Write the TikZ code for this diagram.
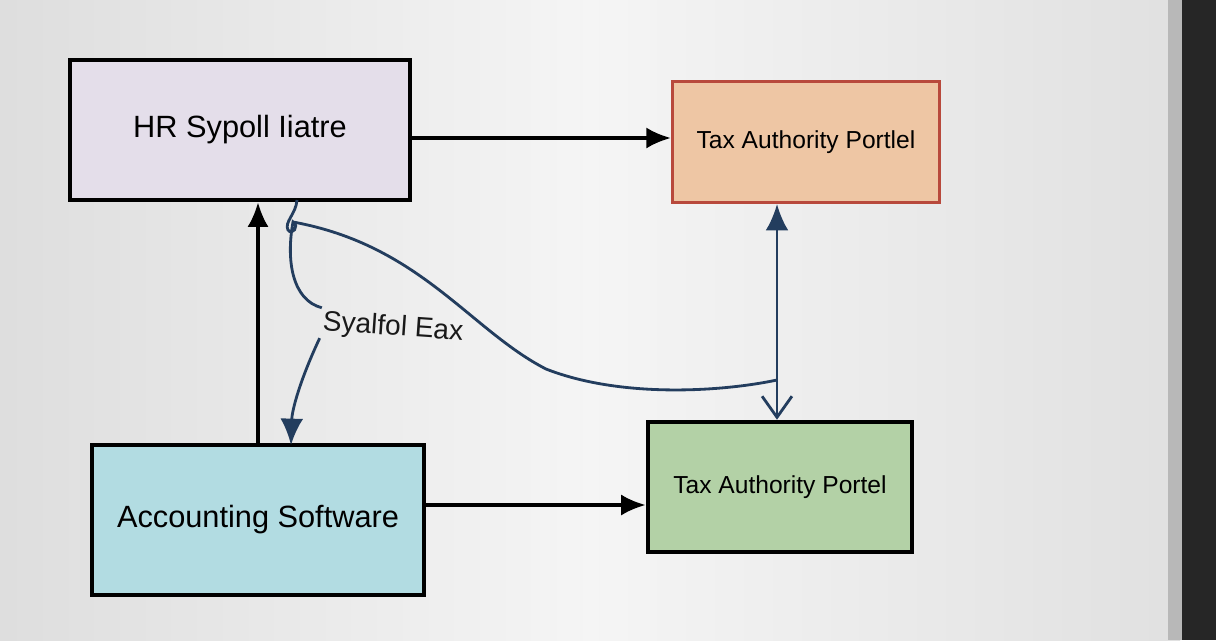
\documentclass[tikz,border=0pt]{standalone}
\usepackage{fontspec}
\setmainfont{Liberation Sans}
\usetikzlibrary{arrows.meta}
\definecolor{navy}{HTML}{233D5E}
\definecolor{lavender}{HTML}{E4DEEA}
\definecolor{peach}{HTML}{EEC6A4}
\definecolor{brick}{HTML}{B8493C}
\definecolor{sage}{HTML}{B3D1A6}
\definecolor{aqua}{HTML}{B2DCE2}
\begin{document}
\begin{tikzpicture}
  [x=0.02cm,y=-0.02cm,
   box/.style={draw=black,line width=2.6pt,inner sep=0pt},
   link/.style={line width=2pt,-{Latex[length=14pt,width=12pt]}},
   flow/.style={draw=navy,line width=1.6pt}]
  \useasboundingbox (0,0) rectangle (1216,640);
  \shade[left color=black!13,right color=black!12,middle color=black!4] (0,0) rectangle (1180,640);
  \fill[black!28] (1168,0) rectangle (1182,640);
  \fill[black!85] (1182,0) rectangle (1216,640);

  \node[box,fill=lavender,minimum width=6.8cm,minimum height=2.8cm,
    font=\fontsize{17.5}{21}\selectfont] (hr) at (240,130) {HR Sypoll Iiatre};
  \node[box,draw=brick,line width=1.8pt,fill=peach,minimum width=5.34cm,minimum height=2.42cm,
    font=\fontsize{14}{17}\selectfont] (tax) at (806,142) {Tax Authority Portlel};
  \node[box,fill=sage,minimum width=5.28cm,minimum height=2.6cm,
    font=\fontsize{14}{17}\selectfont] (portal) at (780,487) {Tax Authority Portel};
  \node[box,fill=aqua,minimum width=6.64cm,minimum height=3cm,
    font=\fontsize{17.5}{21}\selectfont] (acc) at (258,520) {Accounting Software};
  \node[text=black!90,inner sep=1pt,rotate=-4,
    font=\fontsize{16}{19}\selectfont] (lbl) at (393,328) {Syalfol Eax};

  \coordinate (hr-out) at (297,200);
  \coordinate (loop) at (293,222);
  \coordinate (meet) at (777,380);
  \coordinate (acc-in) at (291,445);

  \draw[link] (hr.east |- 0,138) -- (tax.west |- 0,138);
  \draw[link] (acc.north -| 258,0) -- (hr.south -| 258,0);
  \draw[link] (acc.east |- 0,505) -- (portal.west |- 0,505);
  \draw[flow,{Latex[length=15pt,width=13pt]}-{Straight Barb[length=12pt,width=17pt]}]
    (tax.south -| meet) -- (portal.north -| meet);

  \draw[flow] (hr-out) .. controls (296,214) and (284,222) .. (288,230)
    .. controls (292,236) and (300,226) .. (loop)
    .. controls (286,260) and (292,300) .. (lbl.north west);
  \draw[flow] (loop) .. controls (420,245) and (470,330) .. (546,369)
    .. controls (620,398) and (720,392) .. (meet);
  \draw[flow,-{Latex[length=15pt,width=13pt]}] (lbl.south west) .. controls (300,380) and (292,410) .. (acc-in);
\end{tikzpicture}
\end{document}
